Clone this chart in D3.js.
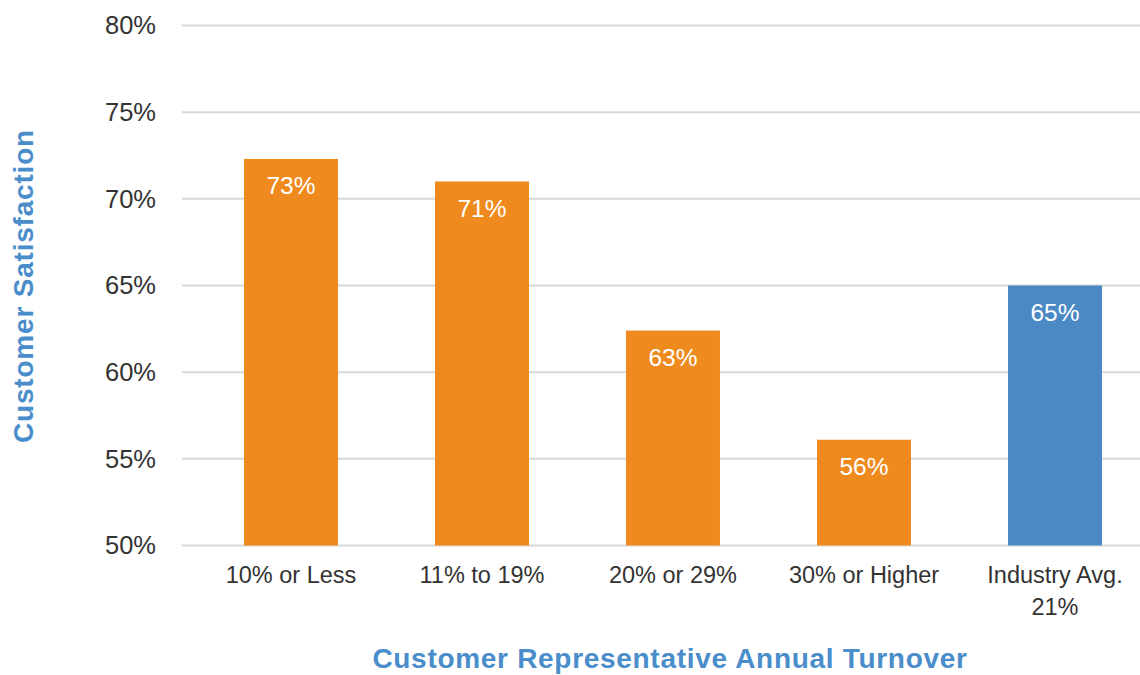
<!DOCTYPE html>
<html>
<head>
<meta charset="utf-8">
<script src="https://cdn.jsdelivr.net/npm/d3@7"></script>
<style>
  html, body { margin: 0; padding: 0; background: #ffffff; }
  svg { display: block; }
  text { font-family: "Liberation Sans", Arial, Helvetica, sans-serif; }
</style>
</head>
<body>
<svg id="chart" width="1140" height="675"></svg>
<script>
const categories = ["10% or Less", "11% to 19%", "20% or 29%", "30% or Higher", "Industry Avg.\n21%"];
const values = [72.3, 71.0, 62.4, 56.1, 65.0];
const valueLabels = ["73%", "71%", "63%", "56%", "65%"];
const barColors = ["#ef8a1f", "#ef8a1f", "#ef8a1f", "#ef8a1f", "#4a89c3"];
const yTicks = [50, 55, 60, 65, 70, 75, 80];
const yTitle = "Customer Satisfaction";
const xTitle = "Customer Representative Annual Turnover";

const svg = d3.select("#chart");
const W = 1140, H = 675;

const y = d3.scaleLinear().domain([50, 80]).range([545.5, 25.5]);
const x = d3.scaleBand().domain(categories).range([195.5, 1150.5])
  .paddingInner(0.508).paddingOuter(0.254);

// gridlines
svg.append("g").selectAll("line").data(yTicks).join("line")
  .attr("x1", 182).attr("x2", W)
  .attr("y1", d => y(d)).attr("y2", d => y(d))
  .attr("stroke", "#d8d8d8").attr("stroke-width", 2);

// y tick labels
svg.append("g").selectAll("text").data(yTicks).join("text")
  .attr("x", 156).attr("y", d => y(d))
  .attr("dy", "0.35em")
  .attr("text-anchor", "end")
  .attr("font-size", 25.5)
  .attr("fill", "#333333")
  .text(d => d + "%");

// bars
svg.append("g").selectAll("rect").data(values).join("rect")
  .attr("x", (d, i) => x(categories[i]))
  .attr("width", x.bandwidth())
  .attr("y", d => y(d))
  .attr("height", d => y(50) - y(d))
  .attr("fill", (d, i) => barColors[i]);

// value labels
svg.append("g").selectAll("text").data(values).join("text")
  .attr("x", (d, i) => x(categories[i]) + x.bandwidth() / 2)
  .attr("y", d => y(d) + 35.5)
  .attr("text-anchor", "middle")
  .attr("font-size", 24.5)
  .attr("fill", "#ffffff")
  .text((d, i) => valueLabels[i]);

// x tick labels
const xl = svg.append("g").selectAll("text").data(categories).join("text")
  .attr("x", d => x(d) + x.bandwidth() / 2)
  .attr("y", 583)
  .attr("text-anchor", "middle")
  .attr("font-size", 23.5)
  .attr("fill", "#333333");
xl.each(function(d) {
  const lines = d.split("\n");
  const t = d3.select(this);
  lines.forEach((ln, k) => {
    t.append("tspan").attr("x", x(d) + x.bandwidth() / 2)
      .attr("dy", k === 0 ? 0 : 32).text(ln);
  });
});

// axis titles
svg.append("text")
  .attr("x", 670).attr("y", 668)
  .attr("text-anchor", "middle")
  .attr("font-size", 28).attr("font-weight", "bold")
  .attr("letter-spacing", 0.7)
  .attr("fill", "#4a8dcb")
  .text(xTitle);

svg.append("text")
  .attr("transform", "translate(33,286) rotate(-90)")
  .attr("text-anchor", "middle")
  .attr("font-size", 28).attr("font-weight", "bold")
  .attr("letter-spacing", 0.8)
  .attr("fill", "#4a8dcb")
  .text(yTitle);
</script>
</body>
</html>
